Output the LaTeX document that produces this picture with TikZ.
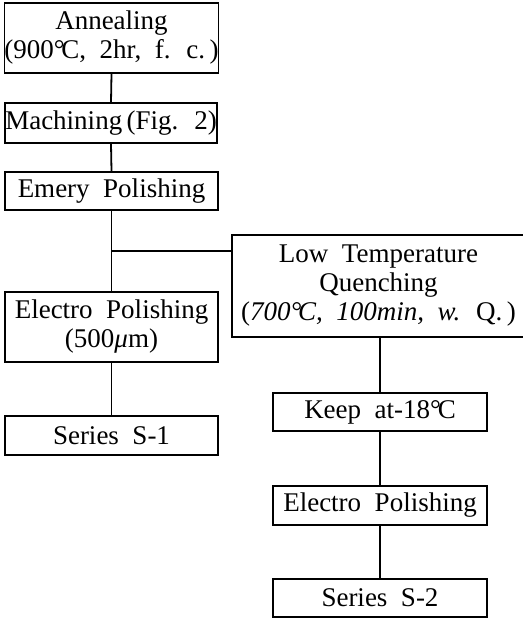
\documentclass[tikz,border=0pt]{standalone}
\usepackage{fontspec}
\setmainfont{Liberation Serif}[WordSpace=2.0]
\newcommand{\degc}{°\kern-0.12em C}
\begin{document}
\begin{tikzpicture}[x=1pt,y=-1pt,
  stepbox/.style={draw, line width=1.6pt, inner sep=0pt, align=center,
    font=\fontsize{27}{29}\selectfont},
  link/.style={line width=1.8pt}]
\useasboundingbox (0,0) rectangle (522,618);

% left column
\node[stepbox, minimum width=213pt, minimum height=70pt] (ann) at (111.5,38)
  {Annealing\\(900\degc, 2hr, f. c.\,)};
\node[stepbox, minimum width=212pt, minimum height=40pt] (mach) at (111,123)
  {Machining\,(Fig. 2)};
\node[stepbox, minimum width=213pt, minimum height=38pt] (emery) at (111.5,191)
  {Emery Polishing};
\node[stepbox, minimum width=213pt, minimum height=70pt] (elA) at (111.5,327)
  {Electro Polishing\\(500{\itshape μ}m)};
\node[stepbox, minimum width=213pt, minimum height=39pt] (s1) at (111.5,435.5)
  {Series S-1};

% right column
\node[stepbox, minimum width=293pt, minimum height=102pt] (ltq) at (378.5,286)
  {Low Temperature\\Quenching\\({\itshape 700\degc, 100min, w.} Q.\,)};
\node[stepbox, minimum width=214pt, minimum height=38pt] (keep) at (380,412)
  {Keep at-18\degc};
\node[stepbox, minimum width=214pt, minimum height=39pt] (elB) at (380,505.5)
  {Electro Polishing};
\node[stepbox, minimum width=214pt, minimum height=38pt] (s2) at (380,598)
  {Series S-2};

% connectors
\coordinate (branch) at (112,251);
\draw[link] (ann.south) -- (mach.north);
\draw[link] (mach.south) -- (emery.north);
\draw[link] (emery.south) -- (elA.north);
\draw[link] (branch) -- (branch -| ltq.west);
\draw[link] (elA.south) -- (s1.north);
\draw[link] (keep.north |- ltq.south) -- (keep.north);
\draw[link] (keep.south) -- (elB.north);
\draw[link] (elB.south) -- (s2.north);
\end{tikzpicture}
\end{document}
